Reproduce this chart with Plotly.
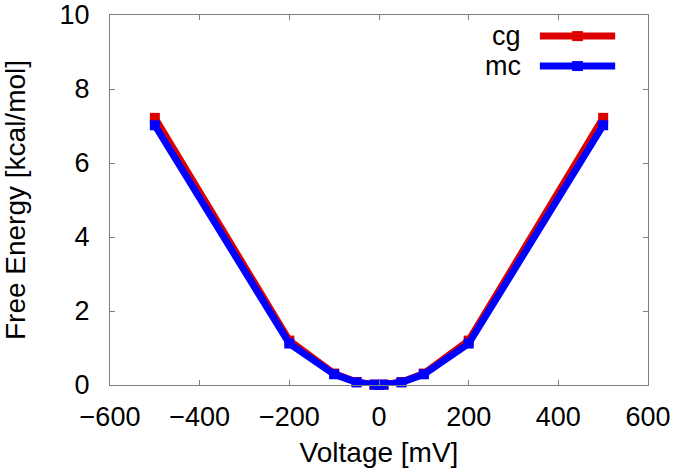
import plotly.graph_objects as go

voltage = [-500, -200, -100, -50, -10, 0, 10, 50, 100, 200, 500]
cg = [7.22, 1.20, 0.31, 0.08, 0.01, 0.0, 0.01, 0.08, 0.31, 1.20, 7.22]
mc = [7.02, 1.12, 0.29, 0.07, 0.01, 0.0, 0.01, 0.07, 0.29, 1.12, 7.02]
series_names = ["cg", "mc"]
colors = ["#dd0000", "#0000ff"]

FONT = "Liberation Sans, Arial, sans-serif"

fig = go.Figure()
for name, vals, col in zip(series_names, [cg, mc], colors):
    fig.add_trace(go.Scatter(
        x=voltage, y=vals, mode="lines+markers", name=name,
        line=dict(color=col, width=7),
        marker=dict(symbol="square", size=10, color=col),
        showlegend=False, cliponaxis=False,
    ))

# manual legend (text left of sample, gnuplot style)
leg_y = [0.943, 0.862]
for name, col, yy in zip(series_names, colors, leg_y):
    fig.add_annotation(xref="paper", yref="paper", x=0.768, y=yy,
                       text=name, showarrow=False, xanchor="right", yanchor="middle",
                       font=dict(family=FONT, size=27, color="black"))
    fig.add_shape(type="line", xref="paper", yref="paper",
                  x0=0.799, x1=0.939, y0=yy, y1=yy,
                  line=dict(color=col, width=7))
    fig.add_shape(type="rect", xref="paper", yref="paper",
                  x0=0.859, x1=0.879, y0=yy - 0.0135, y1=yy + 0.0135,
                  line=dict(width=0), fillcolor=col)

axis_common = dict(
    showline=True, linecolor="#808080", linewidth=1, mirror="ticks",
    ticks="inside", ticklen=5, tickcolor="#808080", tickwidth=1,
    showgrid=False, zeroline=False, automargin=False, ticklabeloverflow="allow",
    tickfont=dict(family=FONT, size=27, color="black"),
)

fig.update_layout(
    width=677, height=472,
    margin=dict(l=110, r=29, t=15, b=87),
    paper_bgcolor="white", plot_bgcolor="white",
    font=dict(family=FONT, size=27, color="black"),
    xaxis=dict(range=[-600, 600], dtick=200, ticklabelstandoff=8,
               title=dict(text="Voltage [mV]", font=dict(family=FONT, size=28), standoff=10),
               **axis_common),
    yaxis=dict(range=[0, 10], dtick=2, ticklabelstandoff=14,
               title=dict(text="Free Energy [kcal/mol]", font=dict(family=FONT, size=28), standoff=30),
               **axis_common),
)

fig.write_html("out.html", config={"displayModeBar": False},
               post_script="document.body.style.margin='0';")
